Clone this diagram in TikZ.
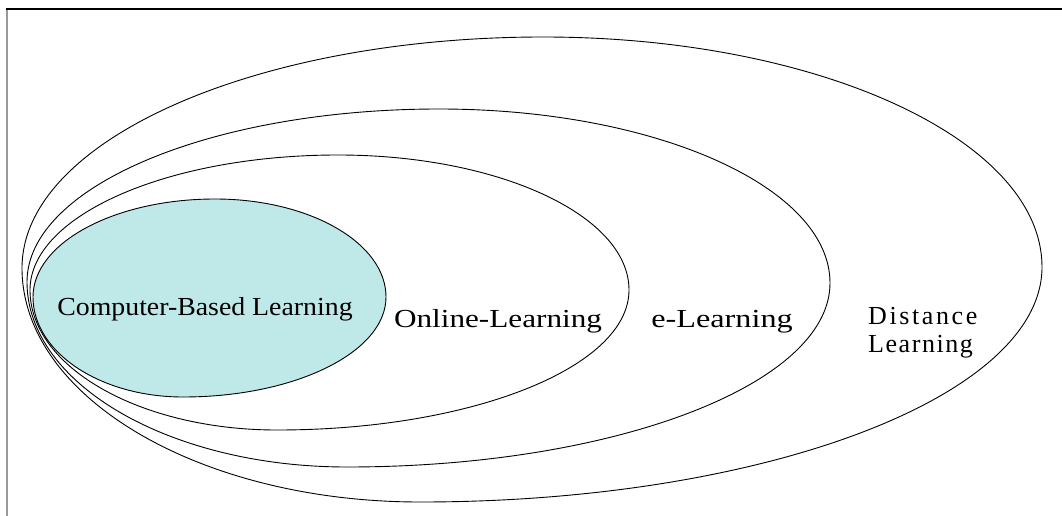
\documentclass[tikz,border=0pt]{standalone}
\usepackage{fontspec}
\setmainfont{Liberation Serif}
\definecolor{cblfill}{RGB}{191,232,232}
\newcommand{\drawegg}[9]{%
 \pgfmathsetmacro\eggA{#3-0.5523*(#3-#5)}%
 \pgfmathsetmacro\eggB{#4-0.5523*(#4-#2)}%
 \pgfmathsetmacro\eggC{#4+0.5523*(#6-#4)}%
 \pgfmathsetmacro\eggD{#7-0.5523*(#7-#5)}%
 \pgfmathsetmacro\eggE{#7+0.5523*(#9-#7)}%
 \pgfmathsetmacro\eggF{#8+0.5523*(#6-#8)}%
 \pgfmathsetmacro\eggG{#8-0.5523*(#8-#2)}%
 \pgfmathsetmacro\eggH{#3+0.5523*(#9-#3)}%
 \path[#1] (#2,#3) .. controls (#2,\eggA) and (\eggB,#5) .. (#4,#5)
   .. controls (\eggC,#5) and (#6,\eggD) .. (#6,#7)
   .. controls (#6,\eggE) and (\eggF,#9) .. (#8,#9)
   .. controls (\eggG,#9) and (#2,\eggH) .. (#2,#3) -- cycle;%
}
\tikzset{
  eggline/.style={draw=black, line width=0.9pt},
  lbl/.style={inner sep=0pt, anchor=base, font=\fontsize{26}{28}\selectfont},
}
\begin{document}
\begin{tikzpicture}[x=1pt,y=-1pt]
\useasboundingbox (0,0) rectangle (1062,516);
\fill[white] (0,0) rectangle (1062,516);
% frame
\draw[gray!80, line width=1.6pt] (7,8) -- (7,516);
\draw[black, line width=2.2pt] (6,9) -- (1062,9);
% inner filled shape first
\drawegg{fill=cblfill}{33}{297}{215}{199}{386}{297}{183}{397}
\drawegg{eggline}{22}{268}{543}{37}{1042}{267}{420}{502}
\drawegg{eggline}{27}{282}{439}{109}{830}{283}{347}{467}
\drawegg{eggline}{30}{290}{338}{155}{629}{290}{277}{430}
\drawegg{eggline}{33}{297}{215}{199}{386}{297}{183}{397}
% labels
\node[lbl] (cbl) at (205,315) {\scalebox{1.07}[1]{Computer-Based Learning}};
\node[lbl] (onl) at (498,327) {\scalebox{1.2}[1]{Online-Learning}};
\node[lbl] (el) at (722,327) {\scalebox{1.24}[1]{e-Learning}};
\node[lbl, anchor=base west] (dist) at (868,324) {\addfontfeature{LetterSpace=10}Distance};
\node[lbl, anchor=base west] (dl) at (868,352) {\addfontfeature{LetterSpace=6}Learning};
\end{tikzpicture}
\end{document}
